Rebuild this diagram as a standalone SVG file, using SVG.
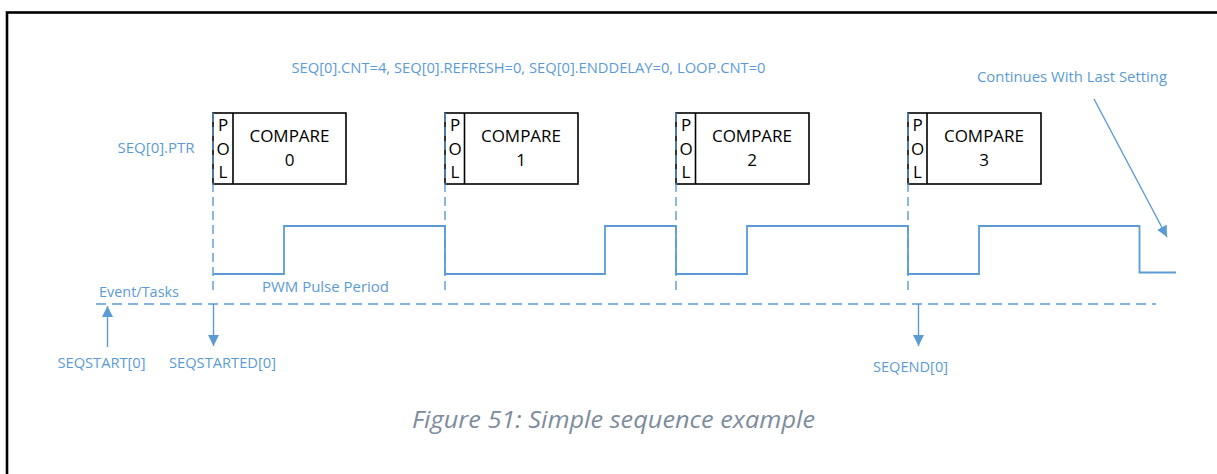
<svg xmlns="http://www.w3.org/2000/svg" width="1217" height="474" viewBox="0 0 1217 474">
<defs>
<marker id="ah" viewBox="0 0 10 10" refX="10" refY="5" markerWidth="11" markerHeight="11" markerUnits="userSpaceOnUse" orient="auto">
<path d="M0,0 L10,5 L0,10 Z" fill="#5B9BD5"/>
</marker>
<style>
.box{fill:#fff;stroke:#000;stroke-width:1.6}
.bt{font-family:"Open Sans","Liberation Sans",sans-serif;font-size:17px;fill:#000}
.lb{font-family:"Open Sans","Liberation Sans",sans-serif;font-size:15px;fill:#5B9BD5}
.cap{font-family:"Open Sans","Liberation Sans",sans-serif;font-size:24px;font-style:italic;fill:#7D8C9C}
.dash{fill:none;stroke:#5B9BD5;stroke-width:1.4;stroke-dasharray:9,5}
.wave{fill:none;stroke:#5B9BD5;stroke-width:1.8}
.arr{fill:none;stroke:#5B9BD5;stroke-width:1.4;marker-end:url(#ah)}
</style>
</defs>
<rect width="1217" height="474" fill="#fff"/>
<rect x="7" y="12.5" width="1240" height="480" fill="none" stroke="#000" stroke-width="2.6"/>

<g id="box0">
<rect class="box" x="213" y="113" width="133" height="71"/>
<line x1="233" y1="113" x2="233" y2="184" stroke="#000" stroke-width="1.6"/>
<text class="bt" x="223" y="131" text-anchor="middle">P</text>
<text class="bt" x="223" y="155" text-anchor="middle">O</text>
<text class="bt" x="223" y="178" text-anchor="middle">L</text>
<text class="bt" x="289.5" y="142" text-anchor="middle">COMPARE</text>
<text class="bt" x="289.5" y="166" text-anchor="middle">0</text>
</g>
<g id="box1">
<rect class="box" x="445" y="113" width="133" height="71"/>
<line x1="464.5" y1="113" x2="464.5" y2="184" stroke="#000" stroke-width="1.6"/>
<text class="bt" x="455" y="131" text-anchor="middle">P</text>
<text class="bt" x="455" y="155" text-anchor="middle">O</text>
<text class="bt" x="455" y="178" text-anchor="middle">L</text>
<text class="bt" x="521" y="142" text-anchor="middle">COMPARE</text>
<text class="bt" x="521" y="166" text-anchor="middle">1</text>
</g>
<g id="box2">
<rect class="box" x="676" y="113" width="133" height="71"/>
<line x1="695.5" y1="113" x2="695.5" y2="184" stroke="#000" stroke-width="1.6"/>
<text class="bt" x="686" y="131" text-anchor="middle">P</text>
<text class="bt" x="686" y="155" text-anchor="middle">O</text>
<text class="bt" x="686" y="178" text-anchor="middle">L</text>
<text class="bt" x="752" y="142" text-anchor="middle">COMPARE</text>
<text class="bt" x="752" y="166" text-anchor="middle">2</text>
</g>
<g id="box3">
<rect class="box" x="908" y="113" width="133" height="71"/>
<line x1="927" y1="113" x2="927" y2="184" stroke="#000" stroke-width="1.6"/>
<text class="bt" x="917.5" y="131" text-anchor="middle">P</text>
<text class="bt" x="917.5" y="155" text-anchor="middle">O</text>
<text class="bt" x="917.5" y="178" text-anchor="middle">L</text>
<text class="bt" x="984" y="142" text-anchor="middle">COMPARE</text>
<text class="bt" x="984" y="166" text-anchor="middle">3</text>
</g>

<g id="connectors">
<line class="dash" x1="213" y1="113" x2="213" y2="292"/>
<line class="dash" x1="445" y1="113" x2="445" y2="292"/>
<line class="dash" x1="676" y1="113" x2="676" y2="292"/>
<line class="dash" x1="908" y1="113" x2="908" y2="292"/>
<line class="dash" x1="96" y1="304" x2="1156" y2="304" style="stroke-dasharray:10,6"/>
<path class="wave" d="M213,274 H284 V226 H445 V274 H605 V226 H676 V274 H747 V226 H908 V274 H979 V226 H1139.5 V272.5 H1176"/>
<line class="arr" x1="107.5" y1="347" x2="107.5" y2="306"/>
<line class="arr" x1="213.5" y1="304" x2="213.5" y2="346"/>
<line class="arr" x1="918.5" y1="304" x2="918.5" y2="346"/>
<line class="arr" x1="1094" y1="99" x2="1167" y2="237"/>
</g>

<g id="labels">
<text class="lb" x="291.5" y="73" textLength="474" lengthAdjust="spacingAndGlyphs">SEQ[0].CNT=4, SEQ[0].REFRESH=0, SEQ[0].ENDDELAY=0, LOOP.CNT=0</text>
<text class="lb" x="117.5" y="153">SEQ[0].PTR</text>
<text class="lb" x="977" y="82" textLength="190" lengthAdjust="spacingAndGlyphs">Continues With Last Setting</text>
<text class="lb" x="99" y="297" textLength="80" lengthAdjust="spacingAndGlyphs">Event/Tasks</text>
<text class="lb" x="262" y="291.5" textLength="127" lengthAdjust="spacingAndGlyphs">PWM Pulse Period</text>
<text class="lb" x="57.5" y="368" textLength="88" lengthAdjust="spacingAndGlyphs">SEQSTART[0]</text>
<text class="lb" x="169" y="368" textLength="107" lengthAdjust="spacingAndGlyphs">SEQSTARTED[0]</text>
<text class="lb" x="873" y="371.5" textLength="75" lengthAdjust="spacingAndGlyphs">SEQEND[0]</text>
</g>
<text class="cap" x="412" y="428" textLength="403" lengthAdjust="spacingAndGlyphs">Figure 51: Simple sequence example</text>
</svg>
